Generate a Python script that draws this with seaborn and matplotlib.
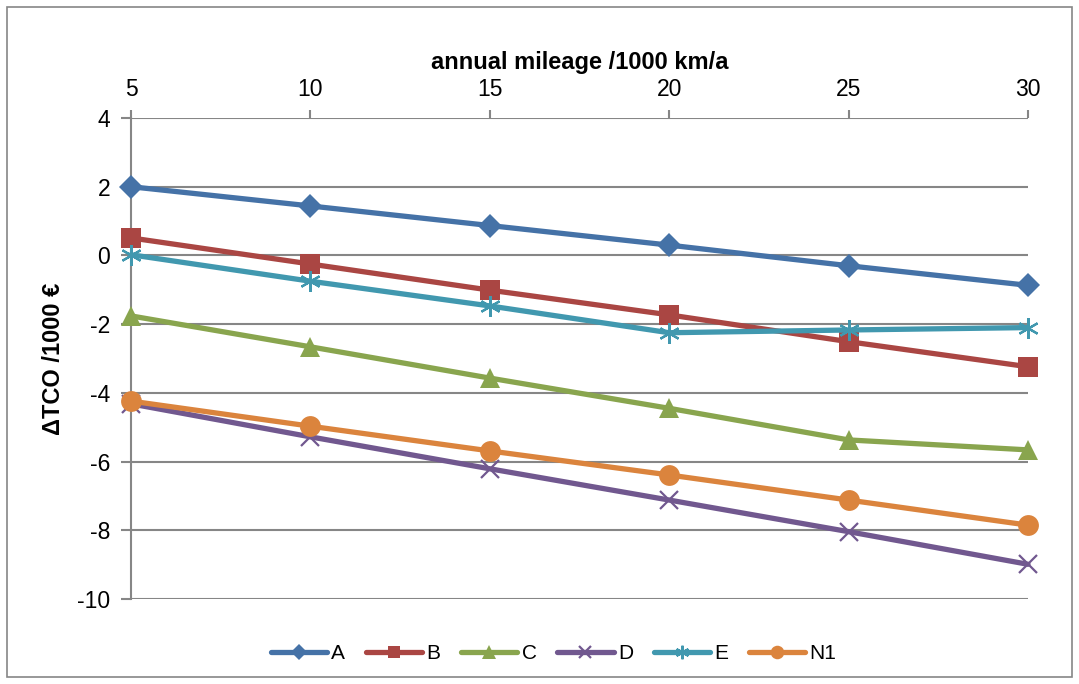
import matplotlib
matplotlib.use("Agg")
import matplotlib.pyplot as plt
import seaborn as sns
import pandas as pd
from matplotlib.patches import Rectangle

sns.set_theme(style="white")
plt.rcParams['font.family'] = ['Liberation Sans', 'DejaVu Sans']
plt.rcParams['axes.unicode_minus'] = False
plt.rcParams['text.color'] = 'black'

mileage = [5, 10, 15, 20, 25, 30]
series_names = ["A", "B", "C", "D", "E", "N1"]
A = [2.00, 1.44, 0.87, 0.30, -0.30, -0.87]
B = [0.51, -0.25, -1.01, -1.73, -2.51, -3.24]
C = [-1.76, -2.66, -3.57, -4.45, -5.37, -5.66]
D = [-4.32, -5.28, -6.21, -7.12, -8.04, -8.99]
E = [0.02, -0.75, -1.47, -2.25, -2.17, -2.10]
N1 = [-4.24, -4.97, -5.69, -6.39, -7.12, -7.85]
yticks = [-10, -8, -6, -4, -2, 0, 2, 4]

values = {"A": A, "B": B, "C": C, "D": D, "E": E, "N1": N1}
colors = {"A": "#4572A7", "B": "#AA4643", "C": "#89A54E", "D": "#71588F",
          "E": "#4198AF", "N1": "#DB843D"}
markers = {"A": "D", "B": "s", "C": "^", "D": "x", "E": (6, 2, 0), "N1": "o"}
msizes = {"A": 12.5, "B": 14, "C": 15, "D": 13, "E": 15, "N1": 15}

fig = plt.figure(figsize=(10.79, 6.84), dpi=100)
ax = fig.add_axes([131/1079, 1 - 599/684, (1028-131)/1079, (599-118)/684])

fig.patches.append(Rectangle((7/1079, 7/684), 1065/1079, 670/684, transform=fig.transFigure,
                             fill=False, edgecolor="#868686", linewidth=1.2))

for name in series_names:
    df = pd.DataFrame({"x": mileage, "y": values[name]})
    m = markers[name]
    filled = m not in ("x", (6, 2, 0))
    kw = dict(markeredgecolor=colors[name])
    kw["markeredgewidth"] = 0 if filled else 1.6
    sns.lineplot(data=df, x="x", y="y", ax=ax, color=colors[name], linewidth=3.8,
                 marker=m, markersize=msizes[name], label=name, zorder=3,
                 clip_on=False, **kw)

ax.set_xlim(5, 30)
ax.set_ylim(-10, 4)
ax.set_xticks(mileage)
ax.set_yticks(yticks)
ax.xaxis.tick_top()
ax.xaxis.set_label_position("top")
ax.grid(axis="y", color="#868686", linewidth=1.5)
ax.grid(axis="x", visible=False)
for s in ["right", "bottom", "top"]:
    ax.spines[s].set_visible(False)
ax.spines["left"].set_color("#868686")
ax.spines["left"].set_linewidth(1.5)
ax.tick_params(axis="y", left=True, length=7, width=1.5, color="#868686", labelsize=16.5, pad=8, labelcolor="black")
ax.tick_params(axis="x", top=True, length=6, width=1.5, color="#868686", labelsize=16.5, pad=6, labelcolor="black")
ax.set_xlabel("annual mileage /1000 km/a", fontsize=17, fontweight="bold", labelpad=7, color="black")
ax.set_ylabel("ΔTCO /1000 €", fontsize=17, fontweight="bold", labelpad=9, color="black")

leg = ax.legend(loc="upper center", bbox_to_anchor=(0.471, -0.055), ncol=6, frameon=False,
                fontsize=15, handlelength=2.7, columnspacing=1.0, handletextpad=0.2,
                markerscale=0.65)
for t in leg.get_texts():
    t.set_color("black")

fig.savefig("out.png", dpi=100)
